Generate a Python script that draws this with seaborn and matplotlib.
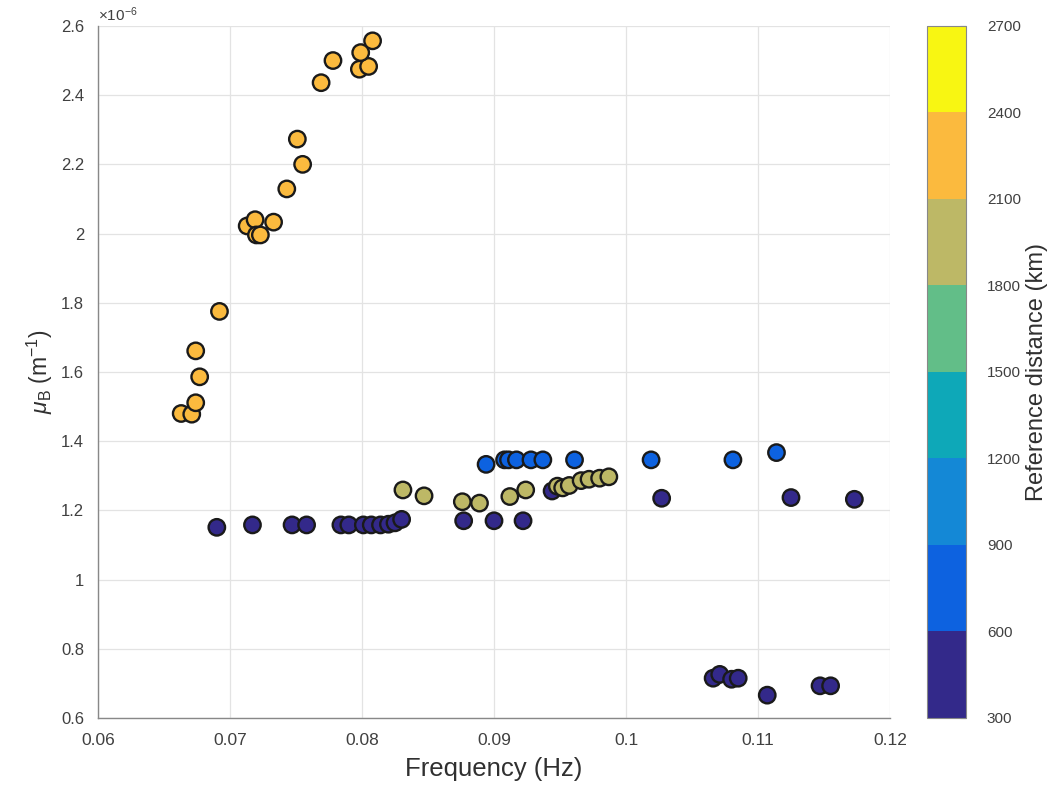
import numpy as np
import pandas as pd
import matplotlib
matplotlib.use("Agg")
import matplotlib.pyplot as plt
import matplotlib.colors as mcolors
import matplotlib.cm as cm
from matplotlib.ticker import FuncFormatter
import seaborn as sns

# ---- data (frequency in Hz, mu_B in units of 1e-6 m^-1, reference distance in km) ----
freq_orange = [0.0663, 0.0671, 0.0674, 0.0677, 0.0674, 0.0692, 0.0713, 0.0719, 0.0720, 0.0723,
               0.0733, 0.0743, 0.0751, 0.0755, 0.0769, 0.0778, 0.0798, 0.0805, 0.0799, 0.0808]
mu_orange = [1.480, 1.478, 1.511, 1.586, 1.661, 1.775, 2.022, 2.040, 1.996, 1.996,
             2.033, 2.129, 2.273, 2.200, 2.436, 2.500, 2.475, 2.483, 2.523, 2.557]

freq_navy = [0.0690, 0.0717, 0.0747, 0.0758, 0.0784, 0.0790, 0.0801, 0.0807, 0.0814, 0.0820,
             0.0825, 0.0830, 0.0877, 0.0900, 0.0922, 0.0944, 0.1027, 0.1125, 0.1173,
             0.1066, 0.1071, 0.1080, 0.1085, 0.1107, 0.1147, 0.1155]
mu_navy = [1.151, 1.158, 1.158, 1.158, 1.158, 1.158, 1.158, 1.158, 1.158, 1.160,
           1.164, 1.174, 1.170, 1.170, 1.170, 1.256, 1.235, 1.237, 1.232,
           0.715, 0.726, 0.712, 0.715, 0.666, 0.693, 0.693]

freq_blue = [0.0894, 0.0908, 0.0911, 0.0917, 0.0928, 0.0937, 0.0961, 0.1019, 0.1081, 0.1114]
mu_blue = [1.333, 1.346, 1.346, 1.346, 1.346, 1.346, 1.346, 1.346, 1.346, 1.367]

freq_olive = [0.0831, 0.0847, 0.0876, 0.0889, 0.0912, 0.0924, 0.0948, 0.0952, 0.0957,
              0.0966, 0.0972, 0.0980, 0.0987]
mu_olive = [1.259, 1.242, 1.225, 1.221, 1.240, 1.259, 1.270, 1.265, 1.272,
            1.286, 1.290, 1.293, 1.297]

dist_navy, dist_blue, dist_olive, dist_orange = 450, 750, 1950, 2250

cbar_bounds = [300, 600, 900, 1200, 1500, 1800, 2100, 2400, 2700]
cbar_colors = ["#33298a", "#0d62e0", "#1488d6", "#0ea8b8", "#62be88", "#bdb866", "#fbba3e", "#f8f612"]

x_ticks = [0.06, 0.07, 0.08, 0.09, 0.10, 0.11, 0.12]
y_ticks = [0.6, 0.8, 1.0, 1.2, 1.4, 1.6, 1.8, 2.0, 2.2, 2.4, 2.6]

# ---- assemble ----
df = pd.concat([
    pd.DataFrame({"freq": freq_navy, "mu": mu_navy, "dist": dist_navy}),
    pd.DataFrame({"freq": freq_blue, "mu": mu_blue, "dist": dist_blue}),
    pd.DataFrame({"freq": freq_olive, "mu": mu_olive, "dist": dist_olive}),
    pd.DataFrame({"freq": freq_orange, "mu": mu_orange, "dist": dist_orange}),
], ignore_index=True)

cmap = mcolors.ListedColormap(cbar_colors)
norm = mcolors.BoundaryNorm(cbar_bounds, cmap.N)
palette = {d: cmap(norm(d)) for d in df["dist"].unique()}

sns.set_theme(style="white")
plt.rcParams["font.family"] = ["Liberation Sans", "DejaVu Sans"]
plt.rcParams["mathtext.fontset"] = "custom"
plt.rcParams["mathtext.rm"] = "Liberation Sans"
plt.rcParams["mathtext.it"] = "Liberation Sans:italic"

fig = plt.figure(figsize=(10.53, 7.91), dpi=100)
ax = fig.add_axes([0.0931, 0.0923, 0.7521, 0.8749])

sns.scatterplot(data=df, x="freq", y="mu", hue="dist", palette=palette, s=140,
                edgecolor="#1a1a1a", linewidth=1.7, legend=False, ax=ax, zorder=3)

ax.set_xlim(0.06, 0.12)
ax.set_ylim(0.6, 2.6)
ax.set_xticks(x_ticks)
ax.set_yticks(y_ticks)
ax.xaxis.set_major_formatter(FuncFormatter(lambda v, p: f"{v:g}"))
ax.yaxis.set_major_formatter(FuncFormatter(lambda v, p: f"{v:g}"))
ax.grid(True, color="#e3e3e3", linewidth=0.9, zorder=0)
ax.set_axisbelow(True)
for s in ["top", "right"]:
    ax.spines[s].set_visible(False)
for s in ["left", "bottom"]:
    ax.spines[s].set_color("#888888")
    ax.spines[s].set_linewidth(1.0)
ax.tick_params(axis="both", direction="in", length=5, width=0.9, color="#888888",
               labelsize=12, labelcolor="#404040")
ax.tick_params(axis="x", pad=11, labelsize=12.5)
ax.tick_params(axis="y", pad=10)

ax.set_xlabel("Frequency (Hz)", fontsize=18.5, color="#303030", labelpad=6)
ax.set_ylabel(r"$\mathit{\mu}_{\mathrm{B}}$ (m$^{-1}$)", fontsize=16.5, color="#303030", labelpad=4)
ax.text(0.0, 1.003, r"$\times$10$^{-6}$", transform=ax.transAxes, fontsize=11,
        color="#404040", ha="left", va="bottom")

# ---- colorbar ----
cax = fig.add_axes([0.8803, 0.0923, 0.0370, 0.8749])
sm = cm.ScalarMappable(norm=norm, cmap=cmap)
cb = fig.colorbar(sm, cax=cax, ticks=cbar_bounds, spacing="proportional")
cb.outline.set_edgecolor("#888888")
cb.outline.set_linewidth(0.8)
cax.tick_params(direction="in", length=4, width=0.8, color="#666666",
                labelsize=11, labelcolor="#404040", pad=15)
cb.set_label("Reference distance (km)", fontsize=17, color="#303030", labelpad=4)

fig.savefig("out.png", dpi=100)
